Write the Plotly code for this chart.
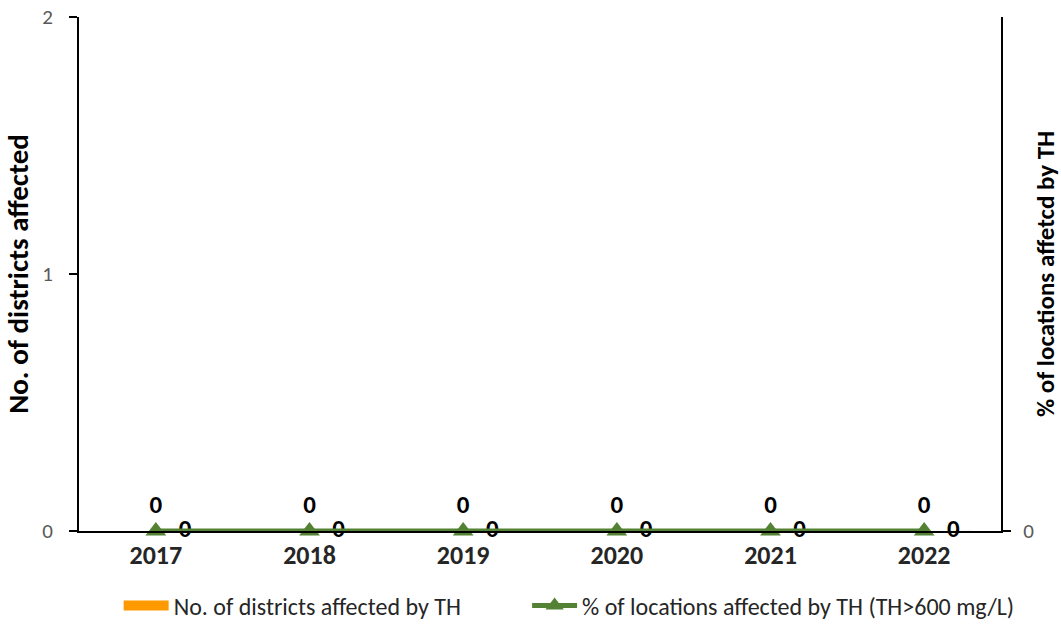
import plotly.graph_objects as go

years = ["2017", "2018", "2019", "2020", "2021", "2022"]
districts_affected = [0, 0, 0, 0, 0, 0]
pct_locations = [0, 0, 0, 0, 0, 0]

xpos = list(range(len(years)))
bar_off = 0.19
FONT = "Calibri, Carlito, Lato, sans-serif"
ORANGE = "#FF9900"
GREEN = "#548235"

fig = go.Figure()

fig.add_trace(go.Bar(
    x=[i + bar_off for i in xpos], y=districts_affected,
    width=0.25, marker_color=ORANGE,
    name="No. of districts affected by TH", yaxis="y",
    showlegend=False, legendgroup="bar",
))
# legend entry for the bar series (wide orange swatch)
fig.add_trace(go.Scatter(
    x=[None], y=[None], mode="lines",
    line=dict(color=ORANGE, width=12),
    name="No. of districts affected by TH", legendgroup="bar",
    legend="legend",
))

fig.add_trace(go.Scatter(
    x=xpos, y=pct_locations, yaxis="y2",
    mode="lines+markers+text",
    line=dict(color=GREEN, width=5),
    marker=dict(symbol="triangle-up", size=18, color=GREEN),
    text=[str(v) for v in pct_locations], textposition="top center",
    textfont=dict(family=FONT, size=25, color="black", weight="bold"),
    name="% of locations affected by TH (TH>600 mg/L)",
    cliponaxis=False, legend="legend2",
))

fig.add_trace(go.Scatter(
    x=[i + bar_off for i in xpos], y=districts_affected, yaxis="y",
    mode="text", text=[str(v) for v in districts_affected],
    textposition="middle center",
    textfont=dict(family=FONT, size=25, color="black", weight="bold"),
    showlegend=False, cliponaxis=False, hoverinfo="skip",
))

legend_common = dict(orientation="h", xanchor="left", y=-0.102, yanchor="top",
                     font=dict(family=FONT, size=24, color="#262626"),
                     itemwidth=45, bgcolor="rgba(0,0,0,0)")

fig.update_layout(
    width=1061, height=624,
    margin=dict(l=79, r=60, t=17, b=93, autoexpand=False),
    plot_bgcolor="white", paper_bgcolor="white",
    font=dict(family=FONT, size=20, color="#404040"),
    showlegend=True,
    legend=dict(x=0.043, **legend_common),
    legend2=dict(x=0.486, **legend_common),
    xaxis=dict(
        range=[-0.5, 5.5], tickvals=xpos, ticktext=years,
        showline=True, linecolor="black", linewidth=2, ticks="",
        showgrid=False, zeroline=False,
        tickfont=dict(family=FONT, size=26, color="#262626", weight="bold"),
    ),
    yaxis=dict(
        range=[0, 2], dtick=1, showline=True, linecolor="black", linewidth=2,
        ticks="outside", ticklen=8, tickcolor="black", tickwidth=2,
        showgrid=False, zeroline=False, ticklabelstandoff=12,
        tickfont=dict(family=FONT, size=21, color="#595959"),
        title=dict(text="No. of districts affected", standoff=10,
                   font=dict(family=FONT, size=29, color="black", weight="bold")),
    ),
    yaxis2=dict(
        overlaying="y", side="right", range=[0, 1], tickvals=[0],
        showline=True, linecolor="black", linewidth=2,
        ticks="outside", ticklen=8, tickcolor="black", tickwidth=2,
        showgrid=False, zeroline=False, ticklabelstandoff=8,
        tickfont=dict(family=FONT, size=21, color="#595959"),
        title=dict(text="% of locations affetcd by TH", standoff=10,
                   font=dict(family=FONT, size=25, color="black", weight="bold")),
    ),
)

fig.write_html("out.html")
